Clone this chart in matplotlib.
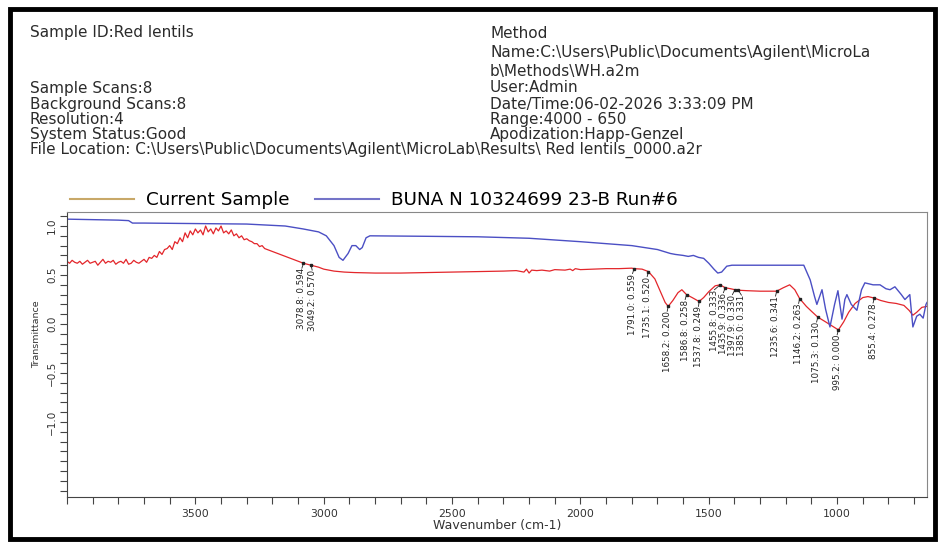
import matplotlib
matplotlib.use('Agg')
import matplotlib.pyplot as plt
from matplotlib.lines import Line2D
from matplotlib.patches import Rectangle
from matplotlib.ticker import MultipleLocator, FixedLocator

plt.rcParams['font.family'] = ['DejaVu Sans']

# header block of the instrument report
header_left = ['Sample ID:Red lentils', '', '', 'Sample Scans:8', 'Background Scans:8',
               'Resolution:4', 'System Status:Good']
header_right = ['Method', 'Name:C:\\Users\\Public\\Documents\\Agilent\\MicroLa',
                'b\\Methods\\WH.a2m', 'User:Admin', 'Date/Time:06-02-2026 3:33:09 PM',
                'Range:4000 - 650', 'Apodization:Happ-Genzel']
file_location = 'File Location: C:\\Users\\Public\\Documents\\Agilent\\MicroLab\\Results\\ Red lentils_0000.a2r'

series_names = ['Current Sample', 'BUNA N 10324699 23-B Run#6']

# Current Sample (red lentils) - wavenumber / transmittance
red_wn = [4000, 3990, 3980, 3970, 3960, 3950, 3940, 3930, 3920, 3910, 3900, 3890, 3880, 3870,
          3860, 3850, 3840, 3830, 3820, 3810, 3800, 3790, 3780, 3770, 3760, 3750, 3740, 3730,
          3720, 3710, 3700, 3690, 3680, 3670, 3660, 3650, 3640, 3630, 3620, 3610, 3600, 3590,
          3580, 3570, 3560, 3550, 3540, 3530, 3520, 3510, 3500, 3490, 3480, 3470, 3460, 3450,
          3440, 3430, 3420, 3410, 3400, 3390, 3380, 3370, 3360, 3350, 3340, 3330, 3320, 3310,
          3300, 3290, 3280, 3270, 3260, 3250, 3240, 3230, 3220, 3200, 3180, 3160, 3140, 3120,
          3100, 3078.8, 3049.2, 3020, 3000, 2960, 2920, 2880, 2800, 2700, 2600, 2500, 2400,
          2300, 2250, 2220, 2210, 2200, 2190, 2170, 2150, 2120, 2100, 2060, 2040, 2030, 2020,
          2000, 1950, 1900, 1850, 1800, 1791, 1760, 1735.1, 1710, 1690, 1670, 1658.2, 1640,
          1620, 1605, 1586.8, 1565, 1537.8, 1520, 1500, 1475, 1455.8, 1435.9, 1415, 1397.9,
          1385, 1350, 1300, 1270, 1235.6, 1210, 1185, 1165, 1146.2, 1120, 1100, 1075.3, 1050,
          1020, 995.2, 975, 955, 930, 900, 880, 855.4, 830, 800, 770, 740, 720, 705, 690, 670, 650]
red_t = [0.64, 0.62, 0.65, 0.63, 0.62, 0.64, 0.61, 0.63, 0.65, 0.62, 0.63, 0.64, 0.60, 0.63,
         0.66, 0.62, 0.64, 0.63, 0.65, 0.61, 0.63, 0.64, 0.62, 0.66, 0.61, 0.62, 0.65, 0.63,
         0.62, 0.64, 0.66, 0.63, 0.68, 0.67, 0.70, 0.68, 0.74, 0.71, 0.76, 0.77, 0.80, 0.76,
         0.84, 0.82, 0.88, 0.84, 0.93, 0.88, 0.95, 0.91, 0.97, 0.93, 0.96, 0.91, 1.00, 0.94,
         0.97, 0.92, 0.98, 0.95, 1.00, 0.93, 0.95, 0.92, 0.96, 0.90, 0.92, 0.88, 0.90, 0.86,
         0.87, 0.85, 0.84, 0.82, 0.82, 0.79, 0.80, 0.77, 0.76, 0.74, 0.72, 0.70, 0.68, 0.66,
         0.64, 0.62, 0.60, 0.58, 0.56, 0.54, 0.53, 0.525, 0.52, 0.52, 0.525, 0.53, 0.535,
         0.54, 0.545, 0.53, 0.56, 0.52, 0.55, 0.545, 0.55, 0.54, 0.555, 0.55, 0.56, 0.545, 0.565,
         0.555, 0.56, 0.565, 0.565, 0.57, 0.565, 0.56, 0.535, 0.46, 0.34, 0.22, 0.18, 0.24,
         0.32, 0.35, 0.30, 0.27, 0.23, 0.27, 0.33, 0.39, 0.40, 0.37, 0.36, 0.35,
         0.345, 0.34, 0.335, 0.335, 0.335, 0.37, 0.40, 0.35, 0.26, 0.18, 0.13, 0.07, 0.03,
         -0.02, -0.06, 0.02, 0.12, 0.21, 0.27, 0.28, 0.265, 0.24, 0.22, 0.21, 0.19, 0.14, 0.09, 0.12, 0.17, 0.18]

# BUNA N reference trace
blue_wn = [4000, 3900, 3800, 3760, 3745, 3700, 3500, 3300, 3150, 3080, 3020, 2990, 2960, 2940,
           2925, 2905, 2890, 2875, 2860, 2850, 2835, 2820, 2600, 2400, 2200, 2000, 1900, 1800,
           1750, 1700, 1650, 1630, 1600, 1580, 1560, 1540, 1520, 1500, 1480, 1465, 1450, 1430,
           1410, 1300, 1200, 1130, 1105, 1088, 1079, 1059, 1045, 1028, 1010, 997, 981, 970, 962,
           945, 923, 905, 892, 860, 833, 810, 794, 775, 750, 736, 717, 705, 690, 678, 665, 654, 650]
blue_t = [1.07, 1.065, 1.06, 1.055, 1.03, 1.03, 1.025, 1.02, 1.0, 0.97, 0.94, 0.90, 0.80, 0.68,
          0.65, 0.72, 0.80, 0.80, 0.76, 0.78, 0.88, 0.90, 0.895, 0.89, 0.875, 0.84, 0.82, 0.80,
          0.78, 0.76, 0.72, 0.71, 0.70, 0.69, 0.70, 0.68, 0.67, 0.62, 0.56, 0.52, 0.53, 0.59,
          0.60, 0.60, 0.60, 0.60, 0.45, 0.28, 0.20, 0.35, 0.15, -0.03, 0.20, 0.34, 0.05, 0.25, 0.30,
          0.20, 0.14, 0.35, 0.42, 0.40, 0.40, 0.36, 0.35, 0.38, 0.30, 0.25, 0.30, -0.03, 0.08,
          0.10, 0.06, 0.20, 0.22]

# peak table labels on the sample trace
peak_wn = [3078.8, 3049.2, 1791, 1735.1, 1658.2, 1586.8, 1537.8, 1455.8, 1435.9, 1397.9, 1385,
           1235.6, 1146.2, 1075.3, 995.2, 855.4]
peak_labels = ['3078.8: 0.594', '3049.2: 0.570', '1791.0: 0.559', '1735.1: 0.520',
               '1658.2: 0.200', '1586.8: 0.258', '1537.8: 0.249', '1455.8: 0.333',
               '1435.9: 0.336', '1397.9: 0.330', '1385.0: 0.331', '1235.6: 0.341',
               '1146.2: 0.263', '1075.3: 0.130', '995.2: 0.000', '855.4: 0.278']
# where each label hangs (the crowded ones are nudged apart a little)
label_wn = [3085, 3045, 1797, 1740, 1662, 1592, 1540, 1478, 1443, 1408, 1373,
            1240, 1150, 1080, 1000, 860]

x_major = [3500, 3000, 2500, 2000, 1500, 1000]
y_major = [-1.0, -0.5, 0.0, 0.5, 1.0]

W, H = 943, 545
fig = plt.figure(figsize=(W / 100, H / 100), dpi=100)


def fx(px):
    return px / W


def fy(py):
    return 1 - py / H


# black frame round the whole report
fig.patches.append(Rectangle((fx(10), fy(539)), fx(925), 530 / H, transform=fig.transFigure,
                             fill=False, edgecolor='black', linewidth=3.5))

# header text
rows_y = [33, 52, 71, 88, 104, 119, 134]
for txt, y in zip(header_left, rows_y):
    fig.text(fx(30), fy(y), txt, fontsize=11, va='center', color='#2b2b2b')
for txt, y in zip(header_right, rows_y):
    fig.text(fx(490), fy(y), txt, fontsize=11, va='center', color='#2b2b2b')
fig.text(fx(30), fy(150), file_location, fontsize=11, va='center', color='#2b2b2b')

ax = fig.add_axes([fx(67), fy(497), fx(927) - fx(67), (497 - 212) / H])
ax.plot(red_wn, red_t, color='#e3262b', linewidth=0.9)
ax.plot(blue_wn, blue_t, color='#4b4fc4', linewidth=1.0)

# peak markers with labels hanging below them
for wn, lab, lx in zip(peak_wn, peak_labels, label_wn):
    v = red_t[red_wn.index(wn)]
    ax.plot([wn], [v], marker='s', markersize=2, color='#222222')
    ax.plot([wn, lx], [v, v - 0.05], color='#222222', linewidth=0.6)
    ax.text(lx, v - 0.05, lab, rotation=90, fontsize=6.3, ha='center', va='top',
            color='#222222')

ax.set_xlim(4000, 650)
ax.set_ylim(-1.765, 1.143)
ax.xaxis.set_major_locator(FixedLocator(x_major))
ax.xaxis.set_minor_locator(MultipleLocator(100))
ax.yaxis.set_major_locator(FixedLocator(y_major))
ax.yaxis.set_minor_locator(MultipleLocator(0.1))
ax.tick_params(which='both', direction='out', length=5, width=0.8, color='#444444',
               labelsize=7.8, labelcolor='#333333')
ax.tick_params(axis='y', labelrotation=90, pad=2, labelsize=7.5)
for lab in ax.get_yticklabels():
    lab.set_va('center')
ax.set_xlabel('Wavenumber (cm-1)', fontsize=9, color='#333333', labelpad=0)
ax.set_ylabel('Transmittance', fontsize=6.8, color='#333333', labelpad=1)
ax.yaxis.set_label_coords(-0.03, 0.57)
for s in ax.spines.values():
    s.set_color('#888888')
    s.set_linewidth(0.8)
ax.spines['left'].set_color('#444444')
ax.spines['bottom'].set_color('#444444')

handles = [Line2D([], [], color='#c8a868', linewidth=1.5),
           Line2D([], [], color='#7474c8', linewidth=1.5)]
ax.legend(handles, series_names, loc='lower left', bbox_to_anchor=(0.0, 1.0), ncol=2,
          frameon=False, fontsize=13.2, handlelength=3.5, handletextpad=0.65,
          columnspacing=1.4, borderaxespad=0.05, borderpad=0.1)

fig.savefig('out.png', dpi=100)
